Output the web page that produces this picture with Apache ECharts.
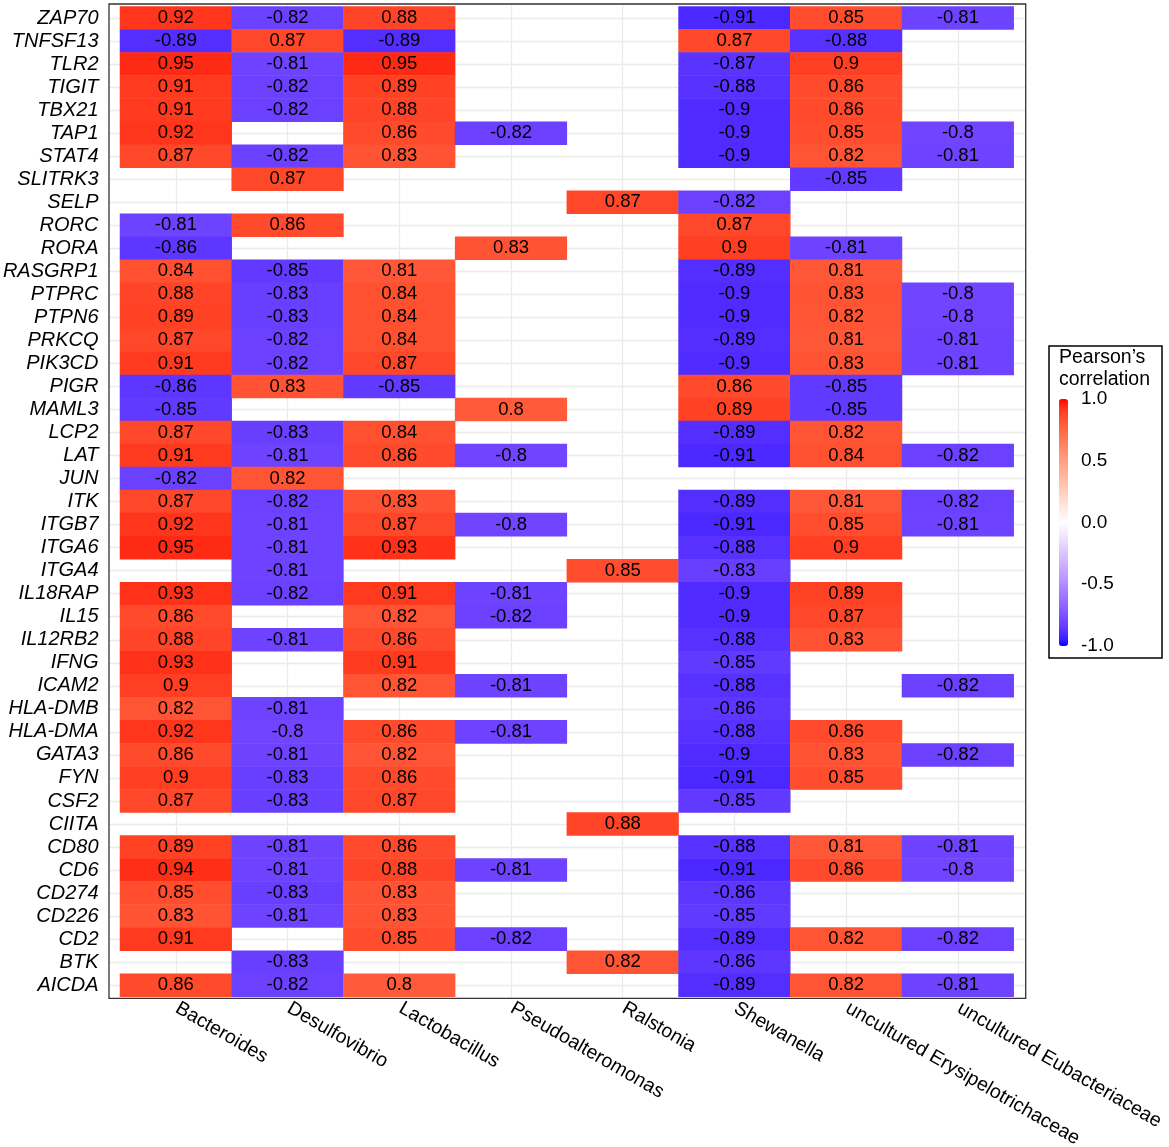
<!DOCTYPE html>
<html>
<head>
<meta charset="utf-8">
<title>Pearson correlation heatmap</title>
<script src="https://cdn.jsdelivr.net/npm/echarts/dist/echarts.min.js"></script>
<style>
  html, body { margin: 0; padding: 0; background: #fff; }
  #chart { width: 1169px; height: 1147px; }
</style>
</head>
<body>
<div id="chart"></div>
<script>
const FONT = '"Liberation Sans", Arial, sans-serif';

// genes, top to bottom
const genes = ['ZAP70', 'TNFSF13', 'TLR2', 'TIGIT', 'TBX21', 'TAP1', 'STAT4', 'SLITRK3', 'SELP', 'RORC',
  'RORA', 'RASGRP1', 'PTPRC', 'PTPN6', 'PRKCQ', 'PIK3CD', 'PIGR', 'MAML3', 'LCP2', 'LAT',
  'JUN', 'ITK', 'ITGB7', 'ITGA6', 'ITGA4', 'IL18RAP', 'IL15', 'IL12RB2', 'IFNG', 'ICAM2',
  'HLA-DMB', 'HLA-DMA', 'GATA3', 'FYN', 'CSF2', 'CIITA', 'CD80', 'CD6', 'CD274', 'CD226',
  'CD2', 'BTK', 'AICDA'];

const genera = ['Bacteroides', 'Desulfovibrio', 'Lactobacillus', 'Pseudoalteromonas', 'Ralstonia',
  'Shewanella', 'uncultured Erysipelotrichaceae', 'uncultured Eubacteriaceae'];

// one array per genus, in gene order; null = no significant correlation
const bacteroides = [0.92, -0.89, 0.95, 0.91, 0.91, 0.92, 0.87, null, null, -0.81,
  -0.86, 0.84, 0.88, 0.89, 0.87, 0.91, -0.86, -0.85, 0.87, 0.91,
  -0.82, 0.87, 0.92, 0.95, null, 0.93, 0.86, 0.88, 0.93, 0.9,
  0.82, 0.92, 0.86, 0.9, 0.87, null, 0.89, 0.94, 0.85, 0.83,
  0.91, null, 0.86];
const desulfovibrio = [-0.82, 0.87, -0.81, -0.82, -0.82, null, -0.82, 0.87, null, 0.86,
  null, -0.85, -0.83, -0.83, -0.82, -0.82, 0.83, null, -0.83, -0.81,
  0.82, -0.82, -0.81, -0.81, -0.81, -0.82, null, -0.81, null, null,
  -0.81, -0.8, -0.81, -0.83, -0.83, null, -0.81, -0.81, -0.83, -0.81,
  null, -0.83, -0.82];
const lactobacillus = [0.88, -0.89, 0.95, 0.89, 0.88, 0.86, 0.83, null, null, null,
  null, 0.81, 0.84, 0.84, 0.84, 0.87, -0.85, null, 0.84, 0.86,
  null, 0.83, 0.87, 0.93, null, 0.91, 0.82, 0.86, 0.91, 0.82,
  null, 0.86, 0.82, 0.86, 0.87, null, 0.86, 0.88, 0.83, 0.83,
  0.85, null, 0.8];
const pseudoalteromonas = [null, null, null, null, null, -0.82, null, null, null, null,
  0.83, null, null, null, null, null, null, 0.8, null, -0.8,
  null, null, -0.8, null, null, -0.81, -0.82, null, null, -0.81,
  null, -0.81, null, null, null, null, null, -0.81, null, null,
  -0.82, null, null];
const ralstonia = [null, null, null, null, null, null, null, null, 0.87, null,
  null, null, null, null, null, null, null, null, null, null,
  null, null, null, null, 0.85, null, null, null, null, null,
  null, null, null, null, null, 0.88, null, null, null, null,
  null, 0.82, null];
const shewanella = [-0.91, 0.87, -0.87, -0.88, -0.9, -0.9, -0.9, null, -0.82, 0.87,
  0.9, -0.89, -0.9, -0.9, -0.89, -0.9, 0.86, 0.89, -0.89, -0.91,
  null, -0.89, -0.91, -0.88, -0.83, -0.9, -0.9, -0.88, -0.85, -0.88,
  -0.86, -0.88, -0.9, -0.91, -0.85, null, -0.88, -0.91, -0.86, -0.85,
  -0.89, -0.86, -0.89];
const erysipelotrichaceae = [0.85, -0.88, 0.9, 0.86, 0.86, 0.85, 0.82, -0.85, null, null,
  -0.81, 0.81, 0.83, 0.82, 0.81, 0.83, -0.85, -0.85, 0.82, 0.84,
  null, 0.81, 0.85, 0.9, null, 0.89, 0.87, 0.83, null, null,
  null, 0.86, 0.83, 0.85, null, null, 0.81, 0.86, null, null,
  0.82, null, 0.82];
const eubacteriaceae = [-0.81, null, null, null, null, -0.8, -0.81, null, null, null,
  null, null, -0.8, -0.8, -0.81, -0.81, null, null, null, -0.82,
  null, -0.82, -0.81, null, null, null, null, null, null, -0.82,
  null, null, -0.82, null, null, null, -0.81, -0.8, null, null,
  -0.82, null, -0.81];

const columns = [bacteroides, desulfovibrio, lactobacillus, pseudoalteromonas, ralstonia,
  shewanella, erysipelotrichaceae, eubacteriaceae];

const legendTicks = [-1, -0.5, 0, 0.5, 1];

// blue - white - red, interpolated in CIELAB like ggplot's gradient2
function labToHex(L, a, b) {
  const fy = (L + 16) / 116, fx = fy + a / 500, fz = fy - b / 200;
  const f = t => t > 6 / 29 ? t * t * t : 3 * (6 / 29) * (6 / 29) * (t - 4 / 29);
  const X = 0.95047 * f(fx), Y = f(fy), Z = 1.08883 * f(fz);
  const lin = [
    3.2406 * X - 1.5372 * Y - 0.4986 * Z,
    -0.9689 * X + 1.8758 * Y + 0.0415 * Z,
    0.0557 * X - 0.2040 * Y + 1.0570 * Z
  ];
  const gam = c => {
    c = Math.min(1, Math.max(0, c));
    return c <= 0.0031308 ? 12.92 * c : 1.055 * Math.pow(c, 1 / 2.4) - 0.055;
  };
  return '#' + lin.map(c => Math.round(gam(c) * 255).toString(16).padStart(2, '0')).join('');
}
const RED_LAB = [53.24, 80.09, 67.20];
const BLUE_LAB = [32.30, 79.19, -107.86];
function divColor(v) {
  const end = v >= 0 ? RED_LAB : BLUE_LAB;
  const t = Math.abs(v);
  return labToHex(100 + (end[0] - 100) * t, end[1] * t, end[2] * t);
}
const colorStops = [];
for (let i = 0; i <= 40; i++) colorStops.push(divColor(-1 + i / 20));

const cells = [];
columns.forEach((col, x) => {
  col.forEach((v, y) => {
    if (v !== null) cells.push([x, y, v]);
  });
});

const hiddenAxis = {
  axisLine: { show: false }, axisTick: { show: false }, axisLabel: { show: false }
};
const gridLine = { show: true, lineStyle: { color: '#ebebeb', width: 1.3 } };
const fixedBox = { outerBoundsMode: 'none', containLabel: false };

const chart = echarts.init(document.getElementById('chart'));
chart.setOption({
  animation: false,
  backgroundColor: '#fff',
  grid: [
    Object.assign({ left: 120, top: 6.5, width: 893.7, height: 990.2 }, fixedBox),     // tiles
    Object.assign({ left: 175.85, top: 4, width: 781.97, height: 994.3 }, fixedBox),   // vertical grid lines
    Object.assign({ left: 109, top: 18, width: 916.7, height: 967.2 }, fixedBox),      // horizontal grid lines
    Object.assign({ left: 1059, top: 399, width: 9, height: 247 }, fixedBox)           // colour bar scale
  ],
  xAxis: [
    {
      type: 'category', gridIndex: 0, data: genera, position: 'bottom', offset: 1.6,
      axisLine: { show: false },
      axisTick: { length: 5, alignWithLabel: true, lineStyle: { color: '#333', width: 1.2 } },
      axisLabel: {
        interval: 0, rotate: -30, margin: -3.5, align: 'left', verticalAlign: 'top',
        padding: [0, 0, 0, 7],
        fontSize: 19.5, color: '#000', fontFamily: FONT
      },
      splitLine: { show: false }
    },
    Object.assign({ type: 'value', gridIndex: 1, min: 0, max: 7, interval: 1, splitLine: gridLine }, hiddenAxis),
    Object.assign({ type: 'value', gridIndex: 2, min: 0, max: 1, splitLine: { show: false } }, hiddenAxis),
    Object.assign({ type: 'value', gridIndex: 3, min: 0, max: 1, splitLine: { show: false } }, hiddenAxis)
  ],
  yAxis: [
    {
      type: 'category', gridIndex: 0, data: genes, inverse: true, offset: 11,
      axisLine: { show: false },
      axisTick: { length: 6, alignWithLabel: true, lineStyle: { color: '#333', width: 1.2 } },
      axisLabel: {
        interval: 0, margin: 10.5, fontSize: 20, fontStyle: 'italic', color: '#000', fontFamily: FONT
      },
      splitLine: { show: false }
    },
    Object.assign({ type: 'value', gridIndex: 1, min: 0, max: 1, splitLine: { show: false } }, hiddenAxis),
    Object.assign({ type: 'value', gridIndex: 2, min: 0, max: 42, interval: 1, inverse: true, splitLine: gridLine }, hiddenAxis),
    {
      type: 'value', gridIndex: 3, min: legendTicks[0], max: legendTicks[legendTicks.length - 1],
      interval: 0.5, position: 'right', z: 10,
      axisLine: { show: false },
      axisTick: { show: true, inside: true, length: 9, lineStyle: { color: '#fff', width: 1.2 } },
      axisLabel: {
        margin: 13, padding: [4, 0, 0, 0], fontSize: 19, color: '#000', fontFamily: FONT,
        formatter: v => v.toFixed(1)
      },
      splitLine: { show: false }
    }
  ],
  visualMap: {
    type: 'continuous', min: -1, max: 1, seriesIndex: 0, dimension: 2,
    calculable: false, hoverLink: false, orient: 'vertical',
    left: 1059, top: 399, padding: 0, itemWidth: 9, itemHeight: 247,
    inRange: { color: colorStops }
  },
  series: [{
    type: 'heatmap',
    xAxisIndex: 0, yAxisIndex: 0,
    data: cells,
    itemStyle: { borderWidth: 0 },
    label: {
      show: true, color: '#000', fontSize: 18.5, fontFamily: FONT,
      formatter: p => String(p.value[2])
    },
    emphasis: { disabled: true }
  }],
  graphic: [
    {
      type: 'rect', z: 5, silent: true,
      shape: { x: 109, y: 4, width: 916.7, height: 994.3 },
      style: { fill: 'none', stroke: '#333', lineWidth: 1.3 }
    },
    {
      type: 'rect', z: 5, silent: true,
      shape: { x: 1049, y: 346, width: 113, height: 312 },
      style: { fill: 'none', stroke: '#000', lineWidth: 1.5 }
    },
    {
      type: 'text', z: 5, left: 1059, top: 347,
      style: {
        text: 'Pearson’s\ncorrelation', fill: '#000',
        font: '19.5px ' + FONT, lineHeight: 21.6
      }
    }
  ]
});
</script>
</body>
</html>
